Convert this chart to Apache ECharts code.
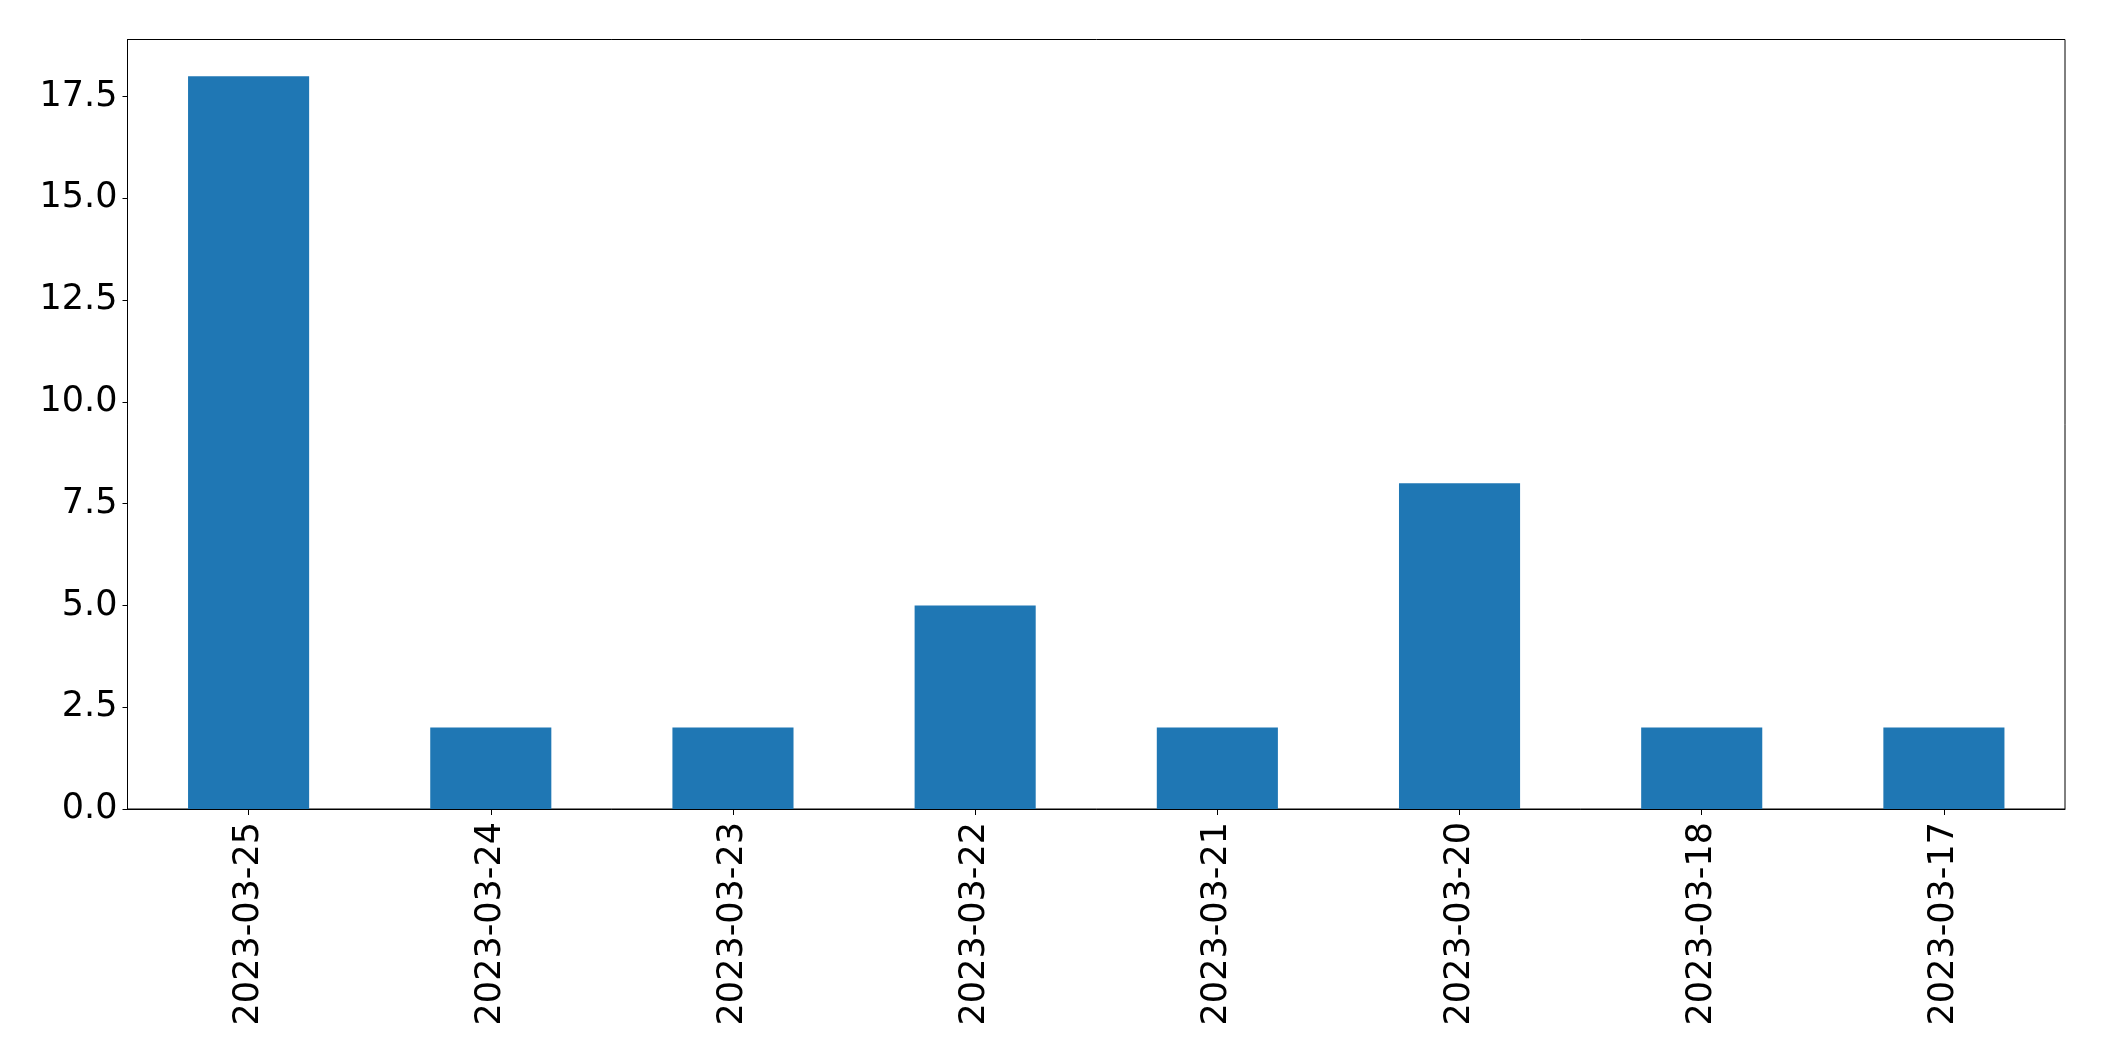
<!DOCTYPE html>
<html>
<head>
<meta charset="utf-8">
<script src="https://cdn.jsdelivr.net/npm/echarts@6/dist/echarts.min.js"></script>
<style>
html,body{margin:0;padding:0;background:#fff;}
#chart{width:2104px;height:1061px;}
</style>
</head>
<body>
<div id="chart"></div>
<script>
const categories = ["2023-03-25","2023-03-24","2023-03-23","2023-03-22","2023-03-21","2023-03-20","2023-03-18","2023-03-17"];
const values = [18, 2, 2, 5, 2, 8, 2, 2];
const yTicks = [0, 2.5, 5, 7.5, 10, 12.5, 15, 17.5];

const chart = echarts.init(document.getElementById('chart'), null, {renderer:'canvas'});
const font = "DejaVu Sans";
chart.setOption({
  animation: false,
  backgroundColor: '#ffffff',
  grid: {left: 127.5, right: 39, top: 39.5, bottom: 252, show: true, borderColor: '#000', borderWidth: 1, backgroundColor: 'transparent'},
  xAxis: {
    type: 'category',
    data: categories,
    boundaryGap: true,
    axisLine: {show: true, lineStyle: {color: '#000', width: 1}},
    axisTick: {show: true, alignWithLabel: true, length: 6, lineStyle: {color: '#000', width: 1}},
    axisLabel: {rotate: 90, color: '#000', fontFamily: font, fontSize: 35, margin: 13, interval: 0},
    splitLine: {show: false}
  },
  yAxis: {
    type: 'value',
    min: 0,
    max: 18.9,
    interval: 2.5,
    axisLine: {show: true, lineStyle: {color: '#000', width: 1}},
    axisTick: {show: true, length: 5, lineStyle: {color: '#000', width: 1}, customValues: yTicks},
    axisLabel: {color: '#000', fontFamily: font, fontSize: 35, margin: 10, customValues: yTicks,
      formatter: v => Number(v).toFixed(1)},
    splitLine: {show: false}
  },
  series: [{
    type: 'bar',
    data: values,
    barWidth: '50%',
    itemStyle: {color: '#1f77b4'}
  }]
});
</script>
</body>
</html>
